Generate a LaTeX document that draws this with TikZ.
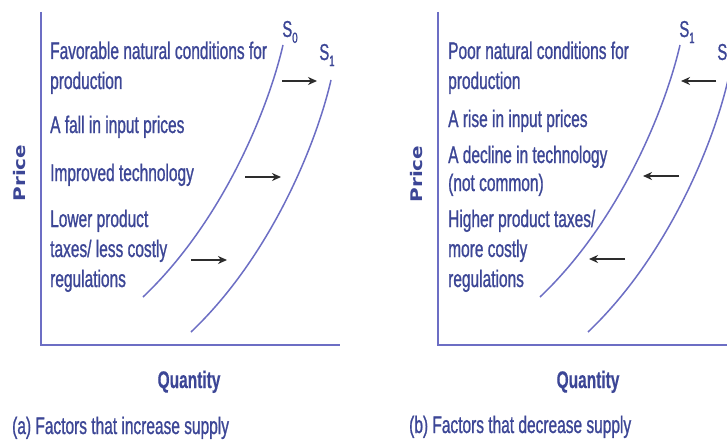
\documentclass[tikz,border=0pt]{standalone}
\usepackage{fontspec}
\setmainfont{Liberation Sans}[FakeStretch=0.645, FakeBold=0.9, BoldFeatures={FakeBold=0.3}]
\newfontfamily\axisfont{DejaVu Sans}[BoldFont={DejaVu Sans Bold}]
\usetikzlibrary{arrows.meta}
\definecolor{txtblue}{RGB}{60,70,150}
\definecolor{lineblue}{RGB}{108,110,196}
\definecolor{arrowgray}{RGB}{45,45,45}

\begin{document}
\begin{tikzpicture}[x=1pt,y=-1pt,
  factor/.style={anchor=base west, inner sep=0pt, text=txtblue,
    font=\fontsize{24}{30}\selectfont},
  qlabel/.style={anchor=base, inner sep=0pt, text=txtblue,
    font=\bfseries\fontsize{24}{30}\selectfont},
  caption/.style={anchor=base west, inner sep=0pt, text=txtblue,
    font=\fontsize{24}{30}\selectfont},
  plabel/.style={rotate=90, inner sep=0pt, text=txtblue,
    font=\axisfont\bfseries\fontsize{16}{16}\selectfont},
  slabel/.style={inner sep=0pt, text=txtblue,
    font=\fontsize{23}{23}\selectfont},
  axis/.style={draw=lineblue, line width=1.8pt},
  supply/.style={draw=lineblue, line width=1.5pt},
  shiftarrow/.style={draw=arrowgray, line width=2.1pt,
    -{Stealth[length=9pt,width=8pt]}}]
\useasboundingbox (0,0) rectangle (727,441);
\clip (0,0) rectangle (727,441);
\fill[white] (0,0) rectangle (727,441);

% ---------- panel (a): supply increases ----------
\coordinate (aO) at (41,345);
\coordinate (aTop) at (41,12);
\coordinate (aRight) at (340,345);
\draw[axis] (aTop) -- (aO) -- (aRight);

\draw[supply] (143,297) .. controls (222,222) and (268,110) .. (283,45);
\draw[supply] (191,332) .. controls (270,257) and (316,145) .. (331,80);
\node[slabel] (aS0) at (290,32) {S\raisebox{-6pt}{\fontsize{15}{15}\selectfont 0}};
\node[slabel] (aS1) at (327,55) {S\raisebox{-6pt}{\fontsize{15}{15}\selectfont 1}};

\coordinate (a1s) at (282,81);  \coordinate (a1e) at (317,81);
\coordinate (a2s) at (245,177); \coordinate (a2e) at (281,177);
\coordinate (a3s) at (191,260); \coordinate (a3e) at (227,260);
\draw[shiftarrow] (a1s) -- (a1e);
\draw[shiftarrow] (a2s) -- (a2e);
\draw[shiftarrow] (a3s) -- (a3e);

\node[factor] (af1a) at (50,59)  {Favorable natural conditions for};
\node[factor] (af1b) at (50,89)  {production};
\node[factor] (af2)  at (50,133) {A fall in input prices};
\node[factor] (af3)  at (50,181) {Improved technology};
\node[factor] (af4a) at (50,227) {Lower product};
\node[factor] (af4b) at (50,257) {taxes/ less costly};
\node[factor] (af4c) at (50,287) {regulations};

\node[plabel] (aPrice) at (20,173) {\scalebox{1.25}[1]{Price}};
\node[qlabel] (aQty) at (189,388) {Quantity};
\node[caption] (aCap) at (12,434) {(a) Factors that increase supply};

% ---------- panel (b): supply decreases ----------
\coordinate (bO) at (438,345);
\coordinate (bTop) at (438,12);
\coordinate (bRight) at (737,345);
\draw[axis] (bTop) -- (bO) -- (bRight);

\draw[supply] (540,297) .. controls (619,222) and (665,110) .. (680,45);
\draw[supply] (588,332) .. controls (667,257) and (713,145) .. (728,80);
\node[slabel] (bS1) at (687,32) {S\raisebox{-6pt}{\fontsize{15}{15}\selectfont 1}};
\node[slabel] (bS0) at (725,55) {S\raisebox{-6pt}{\fontsize{15}{15}\selectfont 0}};

\coordinate (b1s) at (716,81);  \coordinate (b1e) at (681,81);
\coordinate (b2s) at (679,176); \coordinate (b2e) at (643,176);
\coordinate (b3s) at (625,259); \coordinate (b3e) at (589,259);
\draw[shiftarrow] (b1s) -- (b1e);
\draw[shiftarrow] (b2s) -- (b2e);
\draw[shiftarrow] (b3s) -- (b3e);

\node[factor] (bf1a) at (448,59)  {Poor natural conditions for};
\node[factor] (bf1b) at (448,89)  {production};
\node[factor] (bf2)  at (448,127) {A rise in input prices};
\node[factor] (bf3a) at (448,163) {A decline in technology};
\node[factor] (bf3b) at (448,191) {(not common)};
\node[factor] (bf4a) at (448,227) {Higher product taxes/};
\node[factor] (bf4b) at (448,257) {more costly};
\node[factor] (bf4c) at (448,287) {regulations};

\node[plabel] (bPrice) at (417,174) {\scalebox{1.25}[1]{Price}};
\node[qlabel] (bQty) at (588,388) {Quantity};
\node[caption] (bCap) at (409,433) {(b) Factors that decrease supply};
\end{tikzpicture}
\end{document}
